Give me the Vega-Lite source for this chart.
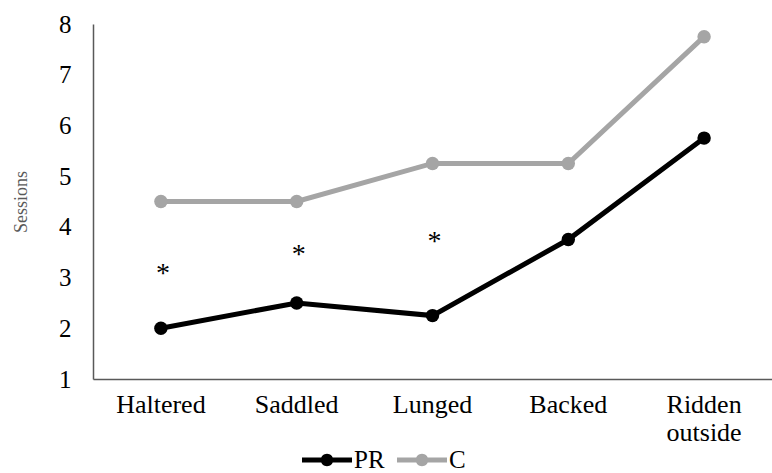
{
  "$schema": "https://vega.github.io/schema/vega-lite/v6.json",
  "width": 679,
  "height": 355,
  "autosize": {"type": "none"},
  "padding": {"left": 93, "top": 24, "right": 0, "bottom": 94},
  "background": "white",
  "config": {
    "view": {"stroke": null},
    "font": "Liberation Serif",
    "axis": {"labelFont": "Liberation Serif", "titleFont": "Liberation Serif"},
    "legend": {"labelFont": "Liberation Serif"},
    "text": {"font": "Liberation Serif"}
  },
  "datasets": {
    "lines": [
      {"stage": "Haltered", "group": "PR", "sessions": 2.0},
      {"stage": "Saddled", "group": "PR", "sessions": 2.5},
      {"stage": "Lunged", "group": "PR", "sessions": 2.25},
      {"stage": "Backed", "group": "PR", "sessions": 3.75},
      {"stage": "Ridden outside", "group": "PR", "sessions": 5.75},
      {"stage": "Haltered", "group": "C", "sessions": 4.5},
      {"stage": "Saddled", "group": "C", "sessions": 4.5},
      {"stage": "Lunged", "group": "C", "sessions": 5.25},
      {"stage": "Backed", "group": "C", "sessions": 5.25},
      {"stage": "Ridden outside", "group": "C", "sessions": 7.75}
    ],
    "stars": [
      {"stage": "Haltered", "y": 3.21, "mark": "*"},
      {"stage": "Saddled", "y": 3.58, "mark": "*"},
      {"stage": "Lunged", "y": 3.84, "mark": "*"}
    ]
  },
  "layer": [
    {
      "data": {"name": "lines"},
      "mark": {"type": "line", "strokeWidth": 5, "point": {"size": 180, "filled": true, "opacity": 1}},
      "encoding": {
        "x": {
          "field": "stage", "type": "nominal",
          "sort": ["Haltered", "Saddled", "Lunged", "Backed", "Ridden outside"],
          "scale": {"type": "band", "paddingInner": 0, "paddingOuter": 0},
          "axis": {
            "title": null, "labelAngle": 0, "ticks": false,
            "domainColor": "#595959", "domainWidth": 1.5,
            "labelFont": "Liberation Serif", "labelFontSize": 26, "labelColor": "#000000",
            "labelPadding": 12, "labelLineHeight": 28, "labelBaseline": "top",
            "labelExpr": "datum.label == 'Ridden outside' ? ['Ridden', 'outside'] : datum.label"
          }
        },
        "y": {
          "field": "sessions", "type": "quantitative",
          "scale": {"domain": [1, 8], "nice": false, "zero": false},
          "axis": {
            "title": "Sessions", "grid": false, "ticks": false,
            "values": [1, 2, 3, 4, 5, 6, 7, 8],
            "domainColor": "#595959", "domainWidth": 1.5,
            "labelFont": "Liberation Serif", "labelFontSize": 25, "labelColor": "#000000",
            "labelPadding": 22,
            "titleFont": "Liberation Serif", "titleFontSize": 18, "titleFontWeight": "normal",
            "titleColor": "#595959", "titlePadding": 28
          }
        },
        "color": {
          "field": "group", "type": "nominal",
          "scale": {"domain": ["PR", "C"], "range": ["#000000", "#A5A5A5"]},
          "legend": {
            "title": null, "orient": "none", "direction": "horizontal",
            "legendX": 209, "legendY": 411,
            "symbolType": "M-1,-0.1H1V0.1H-1Z M0.25,0A0.25,0.25 0 1 1 -0.25,0A0.25,0.25 0 1 1 0.25,0Z",
            "symbolSize": 2500, "symbolStrokeWidth": 0, "symbolOpacity": 1,
            "labelFont": "Liberation Serif", "labelFontSize": 25, "labelColor": "#000000",
            "labelOffset": 2, "columnPadding": 12
          }
        }
      }
    },
    {
      "data": {"name": "stars"},
      "mark": {"type": "text", "font": "Liberation Serif", "fontSize": 28, "baseline": "middle", "dy": 7, "dx": 2, "color": "#000000"},
      "encoding": {
        "x": {"field": "stage", "type": "nominal", "sort": ["Haltered", "Saddled", "Lunged", "Backed", "Ridden outside"]},
        "y": {"field": "y", "type": "quantitative"},
        "text": {"field": "mark"}
      }
    }
  ]
}
